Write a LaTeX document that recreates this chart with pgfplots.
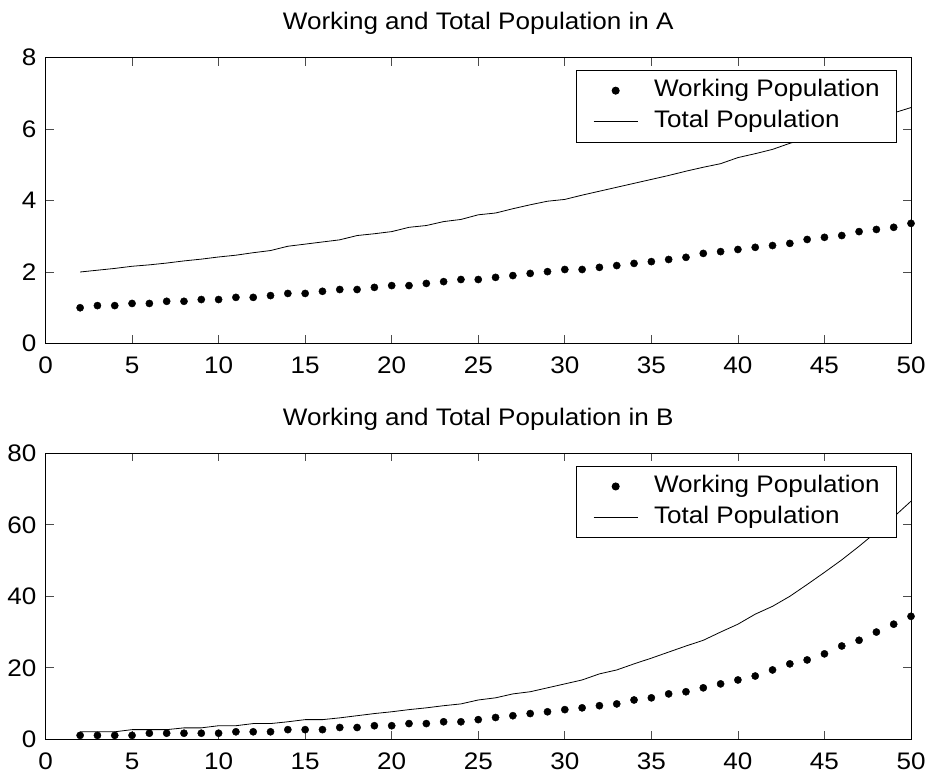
\documentclass[border=0pt]{standalone}
\usepackage{fontspec}
\setmainfont{Liberation Sans}[FakeStretch=1.09]
\usepackage{pgfplots}
\usepackage{pgfplotstable}
\pgfplotsset{compat=1.18}

% Country A
\pgfplotstableread{
x work total
2 1.00 2.00
3 1.06 2.05
4 1.06 2.10
5 1.12 2.16
6 1.12 2.20
7 1.18 2.25
8 1.18 2.31
9 1.23 2.36
10 1.23 2.42
11 1.29 2.47
12 1.29 2.54
13 1.34 2.60
14 1.40 2.72
15 1.40 2.78
16 1.46 2.84
17 1.51 2.90
18 1.51 3.02
19 1.57 3.07
20 1.62 3.13
21 1.62 3.25
22 1.68 3.30
23 1.73 3.41
24 1.79 3.47
25 1.79 3.60
26 1.85 3.65
27 1.90 3.77
28 1.96 3.88
29 2.01 3.98
30 2.07 4.03
31 2.07 4.15
32 2.13 4.26
33 2.18 4.37
34 2.24 4.48
35 2.29 4.59
36 2.35 4.70
37 2.41 4.82
38 2.52 4.93
39 2.57 5.03
40 2.63 5.20
41 2.69 5.31
42 2.74 5.43
43 2.80 5.60
44 2.91 5.74
45 2.97 5.88
46 3.02 6.03
47 3.13 6.18
48 3.19 6.33
49 3.25 6.45
50 3.36 6.60
}\dataA

% Country B
\pgfplotstableread{
x work total
2 1.1 2.1
3 1.1 2.1
4 1.1 2.1
5 1.1 2.7
6 1.7 2.7
7 1.7 2.7
8 1.7 3.2
9 1.7 3.2
10 1.7 3.8
11 2.1 3.8
12 2.1 4.4
13 2.1 4.4
14 2.7 4.9
15 2.7 5.5
16 2.7 5.5
17 3.3 6.0
18 3.3 6.6
19 3.8 7.2
20 3.8 7.7
21 4.4 8.3
22 4.4 8.8
23 4.9 9.4
24 4.9 9.9
25 5.5 11.0
26 6.1 11.6
27 6.6 12.7
28 7.2 13.3
29 7.7 14.4
30 8.3 15.5
31 8.8 16.6
32 9.4 18.3
33 9.9 19.4
34 11.0 21.1
35 11.6 22.7
36 12.7 24.4
37 13.3 26.1
38 14.4 27.7
39 15.5 30.0
40 16.6 32.2
41 17.7 35.0
42 19.4 37.2
43 21.1 40.0
44 22.2 43.3
45 23.9 46.7
46 26.1 50.2
47 27.7 54.0
48 30.0 58.0
49 32.2 62.2
50 34.4 66.6
}\dataB

\pgfplotsset{
  popaxis/.style={
    scale only axis,
    width=865.5bp, height=286bp,
    anchor=south west,
    xmin=0, xmax=50,
    xtick={0,5,...,50},
    ymin=0,
    axis line style={line width=0.9bp, black},
    tick style={line width=0.7bp, black!70},
    major tick length=8bp,
    tick align=inside,
    font=\fontsize{24}{28}\selectfont,
    /pgf/number format/assume math mode=true,
    xticklabel style={inner sep=0pt, anchor=north, yshift=-13.5bp},
    yticklabel style={inner sep=0pt, anchor=east, xshift=-9bp},
    title style={at={(0.5,1)}, anchor=base, inner sep=0pt, yshift=22bp},
    legend cell align=left,
    legend style={
      at={(1,1)}, anchor=north east, xshift=-14bp, yshift=-12.5bp,
      draw=black, line width=0.8bp, fill=white,
      inner xsep=17bp, inner ysep=9.5bp,
      row sep=9.5bp, column sep=16bp,
      nodes={inner sep=0pt, text height=16.5bp, text depth=5bp},
      font=\fontsize{24}{28}\selectfont,
    },
  },
  dotstyle/.style={only marks, mark=*, mark size=3.6bp, black,
    legend image code/.code={\draw[##1] plot coordinates {(22bp,0bp)};}},
  linestyle/.style={no marks, black, line width=0.8bp,
    legend image code/.code={\draw[##1] (0bp,0bp) -- (44bp,0bp);}},
}

\begin{document}
\begin{tikzpicture}
\useasboundingbox (0bp,0bp) rectangle (928bp,773bp);

\begin{axis}[popaxis, at={(45.5bp,429.5bp)}, ymax=8, ytick={0,2,...,8},
  title={Working and Total Population in A}]
  \addplot[dotstyle] table[x=x, y=work] {\dataA};
  \addlegendentry{Working Population}
  \addplot[linestyle] table[x=x, y=total] {\dataA};
  \addlegendentry{Total Population}
\end{axis}

\begin{axis}[popaxis, at={(45.5bp,33.7bp)}, ymax=80, ytick={0,20,...,80},
  title={Working and Total Population in B}]
  \addplot[dotstyle] table[x=x, y=work] {\dataB};
  \addlegendentry{Working Population}
  \addplot[linestyle] table[x=x, y=total] {\dataB};
  \addlegendentry{Total Population}
\end{axis}
\end{tikzpicture}
\end{document}
